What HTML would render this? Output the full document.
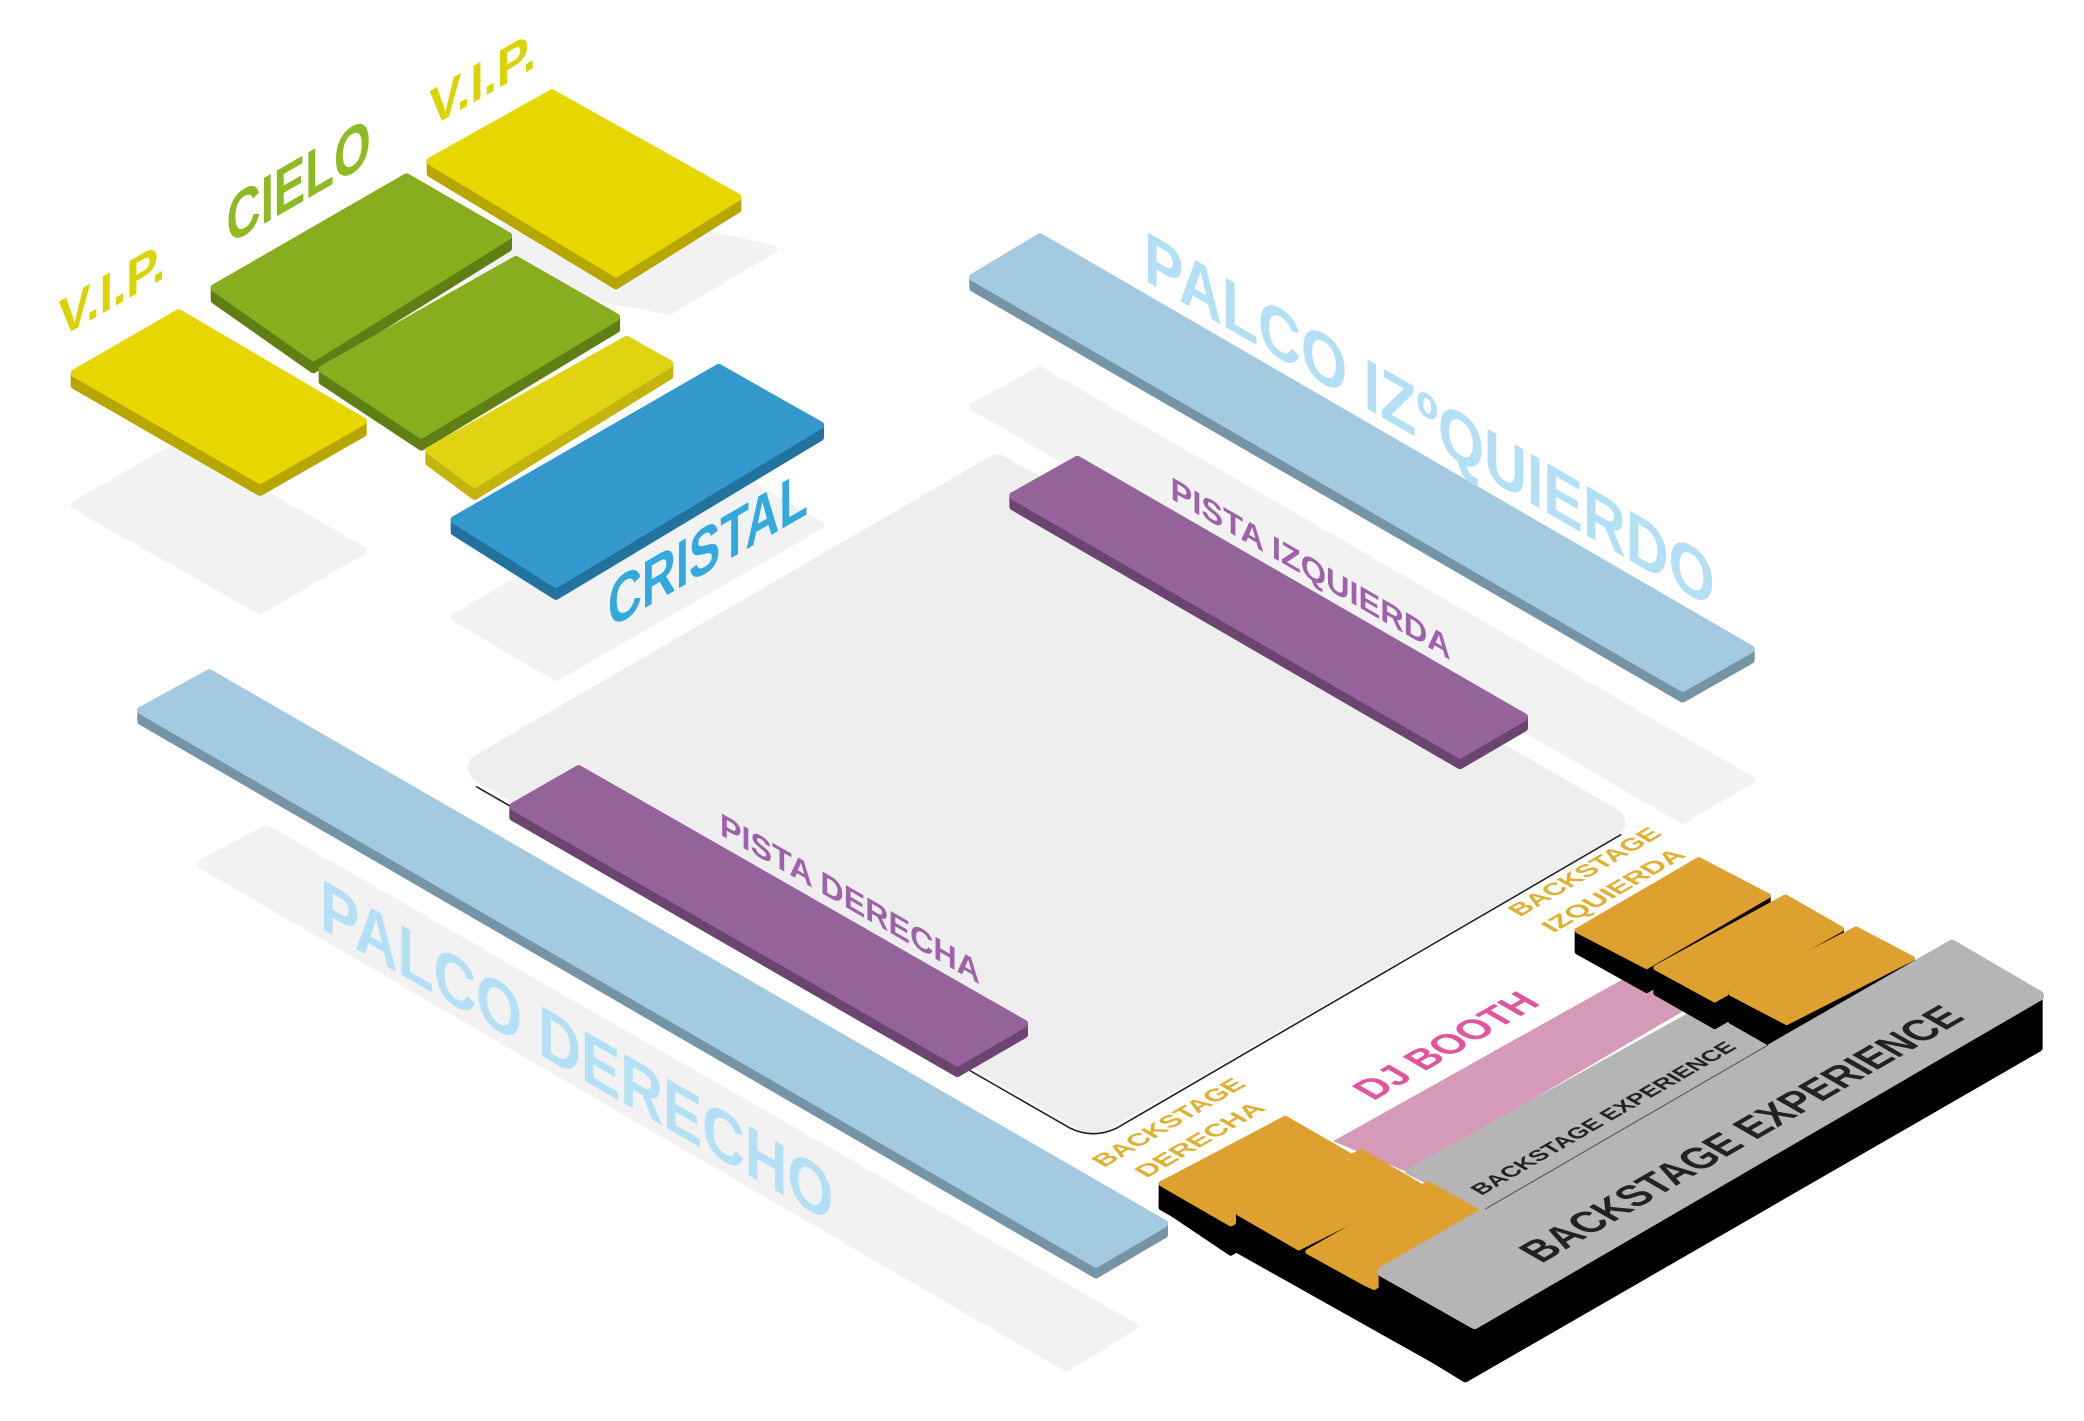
<!DOCTYPE html>
<html><head><meta charset="utf-8"><style>
html,body{margin:0;padding:0;background:#fff;}
svg{display:block;}
text{font-family:"Liberation Sans",sans-serif;font-weight:bold;}
</style></head><body>
<svg width="2084" height="1421" viewBox="0 0 1563 1066" preserveAspectRatio="none" xmlns="http://www.w3.org/2000/svg">
<rect width="1563" height="1066" fill="#fff"/>
<g stroke-linejoin="round" stroke-width="6">
<!-- shadows -->
<polygon points="56,379 134,334 272,413 195,458" fill="#f2f2f2" stroke="#f2f2f2"/>
<polygon points="323,200 414,150 580,187 502,233" fill="#f2f2f2" stroke="#f2f2f2"/>
<polygon points="341,463 539,350 615,394 417,508" fill="#f2f2f2" stroke="#f2f2f2"/>
<polygon points="730,305 780,278 1313,585 1262,615" fill="#f2f2f2" stroke="#f2f2f2"/>
<polygon points="150,648 200,622 850,995 800,1026" fill="#f2f2f2" stroke="#f2f2f2"/>
<!-- floor -->
<polygon points="362,576 748,352 1208,617 820,841" fill="#eeeeee" stroke="#eeeeee" stroke-width="22"/>
<path d="M1216,626 L838,846 Q820,855 802,846 L357,590" stroke="#222" stroke-width="1.2" fill="none"/>

<!-- VIP left -->
<polygon points="56,280 195,360 272,316 272,325 195,369 56,289" fill="#b8a600" stroke="#b8a600"/>
<polygon points="134,235 272,316 195,360 56,280" fill="#e8d600" stroke="#e8d600"/>
<!-- CIELO upper -->
<polygon points="161,216 235,268 381,177 381,186 235,277 161,225" fill="#5f7f14" stroke="#5f7f14"/>
<polygon points="305,133 381,177 235,268 161,216" fill="#88ad1f" stroke="#88ad1f"/>
<!-- VIP top -->
<polygon points="323,121 462,205 553,148 553,157 462,214 323,130" fill="#b8a600" stroke="#b8a600"/>
<polygon points="414,70 553,148 462,205 323,121" fill="#e8d600" stroke="#e8d600"/>
<!-- CIELO lower -->
<polygon points="242,277 316,326 462,238 462,247 316,335 242,286" fill="#5f7f14" stroke="#5f7f14"/>
<polygon points="387,195 462,238 316,326 242,277" fill="#88ad1f" stroke="#88ad1f"/>
<!-- small yellow -->
<polygon points="322,338 356,363 502,273 502,282 356,372 322,347" fill="#c4b50c" stroke="#c4b50c"/>
<polygon points="470,255 502,273 356,363 322,338" fill="#e0d412" stroke="#e0d412"/>
<!-- cristal -->
<polygon points="341,390 417,438 615,319 615,328 417,447 341,399" fill="#22729e" stroke="#22729e"/>
<polygon points="539,276 615,319 417,438 341,390" fill="#3399cc" stroke="#3399cc"/>

<!-- palco izq -->
<polygon points="730,208 1262,516 1313,487 1313,495 1262,524 730,216" fill="#7595a6" stroke="#7595a6"/>
<polygon points="780,178 1313,487 1262,516 730,208" fill="#a3cae0" stroke="#a3cae0"/>
<!-- pista izq -->
<polygon points="760,372 1095,566 1143,538 1143,546 1095,574 760,380" fill="#6b4470" stroke="#6b4470"/>
<polygon points="808,345 1143,538 1095,566 760,372" fill="#94639a" stroke="#94639a"/>
<!-- palco der -->
<polygon points="106,533 822,948 873,918 873,926 822,956 106,541" fill="#7595a6" stroke="#7595a6"/>
<polygon points="157,505 873,918 822,948 106,533" fill="#a3cae0" stroke="#a3cae0"/>
<!-- pista der -->
<polygon points="385,605 718,797 768,768 768,776 718,805 385,613" fill="#6b4470" stroke="#6b4470"/>
<polygon points="434,577 768,768 718,797 385,605" fill="#94639a" stroke="#94639a"/>
</g>

<g stroke-linejoin="round" stroke-width="4">
<!-- pink & middle gray (floor level of booth) -->
<polygon points="1221,733 1264,757 1056,879 1001,856" fill="#d49ab8" stroke="#d49ab8" stroke-width="1"/>
<polygon points="1279,755 1326,784 1114,907 1056,879" fill="#b5b5b5" stroke="#b5b5b5"/>

<!-- right orange group -->
<polygon points="1183,698 1235,725 1326,672 1326,690 1235,743 1183,714" fill="#000" stroke="#000"/>
<polygon points="1274,645 1326,672 1235,725 1183,698" fill="#dea02f" stroke="#dea02f"/>
<polygon points="1242,726 1286,750 1381,697 1381,716 1286,770 1242,745" fill="#000" stroke="#000"/>
<polygon points="1339,673 1381,697 1286,750 1242,726" fill="#dea02f" stroke="#dea02f"/>
<polygon points="1298,745 1340,767 1434,719 1434,740 1340,790 1298,766" fill="#000" stroke="#000"/>
<polygon points="1392,697 1434,719 1340,767 1298,745" fill="#dea02f" stroke="#dea02f"/>

<!-- left orange group -->
<polygon points="871,888 923,918 1016,869 1016,890 923,940 871,905" fill="#000" stroke="#000"/>
<polygon points="964,839 1016,869 923,918 871,888" fill="#dea02f" stroke="#dea02f"/>
<polygon points="929,910 974,936 1066,890 1066,912 974,960 929,928" fill="#000" stroke="#000"/>
<polygon points="1021,864 1066,890 974,936 929,910" fill="#dea02f" stroke="#dea02f"/>
<polygon points="981,939 1030,966 1114,912 1114,940 1030,990 981,958" fill="#000" stroke="#000"/>
<polygon points="1071,888 1114,912 1030,966 981,939" fill="#dea02f" stroke="#dea02f"/>

<!-- base black front -->
<polygon points="871,900 871,906 1099,1034 1529,786 1529,760 1099,1000" fill="#000" stroke="#000"/>
<!-- big gray prism -->
<polygon points="1037,954 1106,993 1529,747 1529,786 1099,1034 1037,996" fill="#000" stroke="#000" stroke-width="6"/>
<polygon points="1464,709 1529,747 1106,993 1037,954" fill="#b5b5b5" stroke="#b5b5b5" stroke-width="8"/>
<path d="M1326,784 L1114,907" stroke="#555" stroke-width="0.8"/>
</g>

<!-- labels: vertical-plane, up-right -->
<text transform="translate(44,254) skewY(-30)" font-size="40" fill="#dcd400" textLength="80" lengthAdjust="spacingAndGlyphs">V.I.P.</text>
<text transform="translate(170,184) skewY(-30)" font-size="50" fill="#8fbb22" textLength="108" lengthAdjust="spacingAndGlyphs">CIELO</text>
<text transform="translate(322,96) skewY(-30)" font-size="40" fill="#dcd400" textLength="80" lengthAdjust="spacingAndGlyphs">V.I.P.</text>
<text transform="translate(456,472) skewY(-30)" font-size="50" fill="#33aadf" textLength="150" lengthAdjust="spacingAndGlyphs">CRISTAL</text>

<!-- labels: vertical-plane, down-right -->
<text transform="translate(858,210) skewY(30)" font-size="54" fill="#b3e0f5" textLength="428" lengthAdjust="spacingAndGlyphs">PALCO IZºQUIERDO</text>
<text transform="translate(878,374) skewY(30)" font-size="24" fill="#9e62a8" textLength="210" lengthAdjust="spacingAndGlyphs">PISTA IZQUIERDA</text>
<text transform="translate(540,626) skewY(30)" font-size="24" fill="#9e62a8" textLength="195" lengthAdjust="spacingAndGlyphs">PISTA DERECHA</text>
<text transform="translate(240,696) skewY(30)" font-size="54" fill="#b3e0f5" textLength="385" lengthAdjust="spacingAndGlyphs">PALCO DERECHO</text>

<!-- labels: floor-plane -->
<text transform="matrix(0.866,-0.5,0.866,0.5,1030,826)" font-size="30" fill="#e0559b" textLength="146" lengthAdjust="spacingAndGlyphs">DJ BOOTH</text>
<text transform="matrix(0.866,-0.5,0.866,0.5,828,876)" font-size="18" fill="#e0b030" textLength="124" lengthAdjust="spacingAndGlyphs">BACKSTAGE</text>
<text transform="matrix(0.866,-0.5,0.866,0.5,860,884)" font-size="18" fill="#e0b030" textLength="104" lengthAdjust="spacingAndGlyphs">DERECHA</text>
<text transform="matrix(0.866,-0.5,0.866,0.5,1140,688)" font-size="18" fill="#e0b030" textLength="124" lengthAdjust="spacingAndGlyphs">BACKSTAGE</text>
<text transform="matrix(0.866,-0.5,0.866,0.5,1165,700)" font-size="18" fill="#e0b030" textLength="116" lengthAdjust="spacingAndGlyphs">IZQUIERDA</text>
<text transform="matrix(0.866,-0.5,0.866,0.5,1111,897)" font-size="16" fill="#222" textLength="222" lengthAdjust="spacingAndGlyphs">BACKSTAGE EXPERIENCE</text>
<text transform="matrix(0.866,-0.5,0.866,0.5,1156,948)" font-size="32" fill="#222" textLength="368" lengthAdjust="spacingAndGlyphs">BACKSTAGE EXPERIENCE</text>
</svg>
</body></html>
